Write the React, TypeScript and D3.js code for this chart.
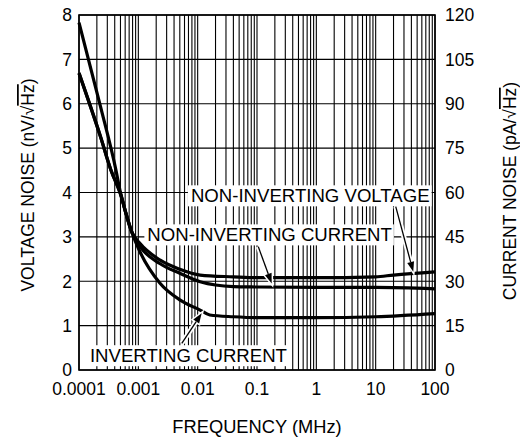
import React, { useLayoutEffect, useRef, useState } from "react";
import * as d3 from "d3";

// frequency (MHz), noise (left axis units, nV/√Hz)
const invertingCurrent: [number, number][] = [
  [1e-4, 7.83], [2.3e-4, 5.94], [4.2e-4, 4.5], [4.9e-4, 4.05], [7.8e-4, 3.1],
  [1.07e-3, 2.66], [2.3e-3, 1.96], [5e-3, 1.58], [0.011, 1.35], [0.016, 1.24],
  [0.04, 1.2], [0.1, 1.18], [1, 1.18], [10, 1.2], [100, 1.27],
];
const nonInvVoltage: [number, number][] = [
  [1e-4, 6.69], [2.3e-4, 5.26], [3.46e-4, 4.5], [4.9e-4, 4.0], [7.8e-4, 3.1],
  [1.07e-3, 2.85], [2.3e-3, 2.48], [5e-3, 2.27], [0.011, 2.14], [0.04, 2.1],
  [0.1, 2.08], [1, 2.08], [10, 2.1], [20, 2.14], [100, 2.21],
];
const nonInvCurrent: [number, number][] = [
  [1e-4, 6.69], [2.3e-4, 5.26], [3.46e-4, 4.5], [4.9e-4, 4.0], [7.8e-4, 3.1],
  [1.07e-3, 2.78], [2.3e-3, 2.4], [5e-3, 2.18], [0.011, 1.99], [0.04, 1.88],
  [0.1, 1.87], [1, 1.86], [10, 1.86], [100, 1.83],
];

const xTickLabels = ["0.0001", "0.001", "0.01", "0.1", "1", "10", "100"];
const leftTicks = [0, 1, 2, 3, 4, 5, 6, 7, 8];
const rightTicks = [0, 15, 30, 45, 60, 75, 90, 105, 120];

// label anchor (freq, value) and arrow from -> to
const labels = [
  { text: "NON-INVERTING VOLTAGE", at: [7.7e-3, 3.79], from: [21.8, 3.68], to: [43, 2.215] },
  { text: "NON-INVERTING CURRENT", at: [1.42e-3, 2.91], from: [0.105, 2.78], to: [0.177, 1.95] },
  { text: "INVERTING CURRENT", at: [1.53e-4, 0.187], from: [5.4e-3, 0.6], to: [0.0117, 1.28] },
];

const W = 520;
const H = 443;
const font = "'Liberation Sans', Arial, sans-serif";

const xScale = d3.scaleLog().domain([1e-4, 100]).range([79, 435]);
const yScale = d3.scaleLinear().domain([0, 8]).range([370, 15]);
const yRight = d3.scaleLinear().domain([0, 120]).range([370, 15]);

const line = d3
  .line<[number, number]>()
  .x((d) => xScale(d[0]))
  .y((d) => yScale(d[1]))
  .curve(d3.curveMonotoneX);

const Label = ({ x, y, text }: { x: number; y: number; text: string }) => {
  const ref = useRef<SVGTextElement>(null);
  const [box, setBox] = useState<DOMRect | null>(null);
  useLayoutEffect(() => {
    if (ref.current) setBox(ref.current.getBBox());
  }, []);
  return (
    <g>
      {box && (
        <rect x={box.x - 3} y={box.y + 0.5} width={box.width + 5} height={box.height} fill="white" />
      )}
      <text ref={ref} x={x} y={y} fontSize={18.6} fontFamily={font} fill="#000">
        {text}
      </text>
    </g>
  );
};

const Arrow = ({ from, to }: { from: number[]; to: number[] }) => {
  const x1 = xScale(from[0]);
  const y1 = yScale(from[1]);
  const x2 = xScale(to[0]);
  const y2 = yScale(to[1]);
  const ang = Math.atan2(y2 - y1, x2 - x1);
  const len = 10;
  const hw = 3.5;
  const bx = x2 - len * Math.cos(ang);
  const by = y2 - len * Math.sin(ang);
  const px = -Math.sin(ang) * hw;
  const py = Math.cos(ang) * hw;
  const head = `M${x2},${y2}L${bx + px},${by + py}L${bx - px},${by - py}Z`;
  return (
    <g>
      <line x1={x1} y1={y1} x2={bx} y2={by} stroke="white" strokeWidth={5} />
      <path d={head} fill="white" stroke="white" strokeWidth={3} />
      <line x1={x1} y1={y1} x2={bx} y2={by} stroke="#000" strokeWidth={1.3} />
      <path d={head} fill="#000" />
    </g>
  );
};

export default function App() {
  const [x0, x1] = xScale.range();
  const [y0, y1] = yScale.range();
  const decades = d3.range(-4, 3).map((p) => Math.pow(10, p));

  return (
    <svg width={W} height={H} style={{ position: "absolute", left: 0, top: 0, background: "white" }}>
      {/* grid */}
      {xScale.ticks().map((t, i) => (
        <line key={"v" + i} x1={xScale(t)} x2={xScale(t)} y1={y1} y2={y0} stroke="#000" strokeWidth={1.1} />
      ))}
      {leftTicks.map((t) => (
        <line key={"h" + t} x1={x0} x2={x1} y1={yScale(t)} y2={yScale(t)} stroke="#000" strokeWidth={1.1} />
      ))}
      <rect x={x0} y={y1} width={x1 - x0} height={y0 - y1} fill="none" stroke="#000" strokeWidth={1.6} />

      {/* curves */}
      {[invertingCurrent, nonInvVoltage, nonInvCurrent].map((s, i) => (
        <path key={i} d={line(s) || ""} fill="none" stroke="#000" strokeWidth={3.2} strokeLinejoin="round" />
      ))}

      {/* annotations */}
      {labels.map((l) => (
        <Label key={l.text} x={xScale(l.at[0])} y={yScale(l.at[1])} text={l.text} />
      ))}
      {labels.map((l) => (
        <Arrow key={"a" + l.text} from={l.from} to={l.to} />
      ))}

      {/* tick labels */}
      {decades.map((d, i) => (
        <text key={"xt" + i} x={xScale(d)} y={395} textAnchor="middle" fontSize={17.5} fontFamily={font}>
          {xTickLabels[i]}
        </text>
      ))}
      {leftTicks.map((t) => (
        <text key={"lt" + t} x={72} y={yScale(t)} dy="0.36em" textAnchor="end" fontSize={17.5} fontFamily={font}>
          {t}
        </text>
      ))}
      {rightTicks.map((t) => (
        <text key={"rt" + t} x={445} y={yRight(t)} dy="0.36em" textAnchor="start" fontSize={17.5} fontFamily={font}>
          {t}
        </text>
      ))}

      {/* axis titles */}
      <text x={(x0 + x1) / 2} y={433} textAnchor="middle" fontSize={18.3} fontFamily={font}>
        FREQUENCY (MHz)
      </text>
      <text transform="translate(34,185) rotate(-90)" textAnchor="middle" fontSize={17.5} fontFamily={font}>
        VOLTAGE NOISE (nV/√<tspan style={{ textDecoration: "overline" }}>Hz</tspan>)
      </text>
      <text transform="translate(516,191) rotate(-90)" textAnchor="middle" fontSize={17.5} fontFamily={font}>
        CURRENT NOISE (pA/√<tspan style={{ textDecoration: "overline" }}>Hz</tspan>)
      </text>
    </svg>
  );
}
